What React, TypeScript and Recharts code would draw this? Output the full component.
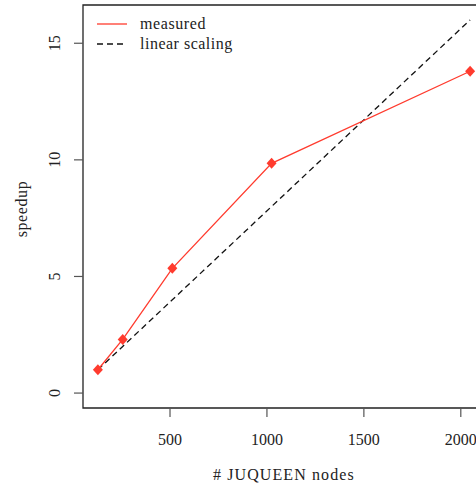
import { LineChart, Line, XAxis, YAxis, ReferenceArea } from 'recharts'

const nodes = [128, 256, 512, 1024, 2048]
const measured = [1, 2.3, 5.35, 9.85, 13.8]
const linear = [1, 2, 4, 8, 16]
const xTicks = [500, 1000, 1500, 2000]
const yTicks = [0, 5, 10, 15]

const data = nodes.map((n, i) => ({ nodes: n, measured: measured[i], linear: linear[i] }))

const RED = '#ff3b2e'
const FONT = 'Liberation Serif'
const xDomain: [number, number] = [51.2, 2124.8]
const yDomain: [number, number] = [-0.64, 16.64]

function Diamond({ cx, cy }: any) {
  if (cx == null || cy == null) return null
  return (
    <path
      d={`M${cx} ${cy - 5.5} L${cx + 5} ${cy} L${cx} ${cy + 5.5} L${cx - 5} ${cy} Z`}
      fill={RED}
    />
  )
}

function XTick({ x, y, payload }: any) {
  return (
    <text x={x} y={y + 26} textAnchor="middle" fill="#222" style={{ fontFamily: FONT, fontSize: 16 }}>
      {payload.value}
    </text>
  )
}

function YTick({ x, y, payload }: any) {
  const bx = x - 12
  return (
    <text
      x={bx}
      y={y}
      transform={`rotate(-90, ${bx}, ${y})`}
      textAnchor="middle"
      fill="#222"
      style={{ fontFamily: FONT, fontSize: 16 }}
    >
      {payload.value}
    </text>
  )
}

const txt = { fontFamily: FONT, fontSize: 16, color: '#222' }

export default function App() {
  return (
    <div style={{ position: 'absolute', left: 0, top: 0, width: 476, height: 489, overflow: 'hidden', background: '#fff' }}>
      <LineChart width={500} height={489} data={data} margin={{ top: 5, right: 15, bottom: 0, left: 0 }}>
        <XAxis
          dataKey="nodes"
          type="number"
          domain={xDomain}
          ticks={xTicks}
          allowDataOverflow
          axisLine={false}
          tickSize={9}
          tickLine={{ stroke: '#555', strokeWidth: 1.2 }}
          tick={<XTick />}
          height={81}
        />
        <YAxis
          type="number"
          domain={yDomain}
          ticks={yTicks}
          allowDataOverflow
          axisLine={false}
          tickSize={9}
          tickLine={{ stroke: '#555', strokeWidth: 1.2 }}
          tick={<YTick />}
          width={83}
        />
        <ReferenceArea
          x1={xDomain[0]}
          x2={xDomain[1]}
          y1={yDomain[0]}
          y2={yDomain[1]}
          fill="none"
          stroke="#222"
          strokeWidth={1.3}
          ifOverflow="visible"
        />
        <Line
          dataKey="linear"
          stroke="#111"
          strokeWidth={1.3}
          strokeDasharray="6 4"
          dot={false}
          activeDot={false}
          isAnimationActive={false}
        />
        <Line
          dataKey="measured"
          stroke={RED}
          strokeWidth={1.3}
          dot={<Diamond />}
          activeDot={false}
          isAnimationActive={false}
        />
      </LineChart>
      <div style={{ ...txt, position: 'absolute', left: 213, top: 466, letterSpacing: 1.1, whiteSpace: 'nowrap', lineHeight: '18px' }}>
        # JUQUEEN nodes
      </div>
      <div
        style={{
          ...txt,
          position: 'absolute',
          left: 22,
          top: 209,
          transform: 'translate(-50%, -50%) rotate(-90deg)',
          letterSpacing: 0.6,
          whiteSpace: 'nowrap',
          lineHeight: '18px',
        }}
      >
        speedup
      </div>
      <div style={{ position: 'absolute', left: 97, top: 14, lineHeight: '20px' }}>
        <div style={{ display: 'flex', alignItems: 'center' }}>
          <svg width={30} height={20}>
            <line x1={0} y1={10} x2={30} y2={10} stroke={RED} strokeWidth={1.3} />
          </svg>
          <span style={{ ...txt, marginLeft: 13, letterSpacing: 0.6 }}>measured</span>
        </div>
        <div style={{ display: 'flex', alignItems: 'center' }}>
          <svg width={30} height={20}>
            <line x1={0} y1={10} x2={30} y2={10} stroke="#111" strokeWidth={1.3} strokeDasharray="6 4" />
          </svg>
          <span style={{ ...txt, marginLeft: 13, letterSpacing: 0.5 }}>linear scaling</span>
        </div>
      </div>
    </div>
  )
}
